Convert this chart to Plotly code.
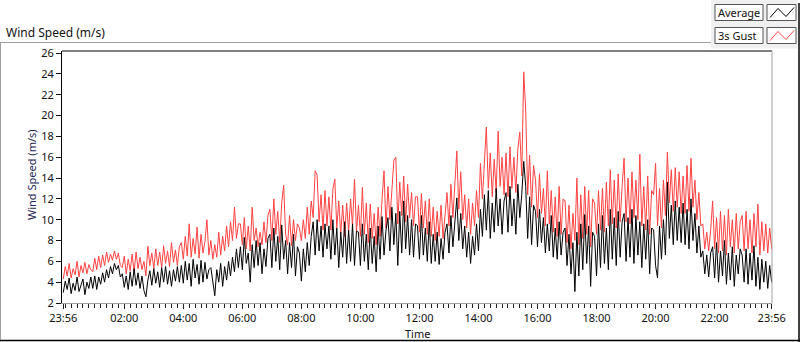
import plotly.graph_objects as go
import pandas as pd

# ---------------- data (4-minute samples) ----------------
start_time = "2015-06-01 23:56"
sample_minutes = 4

avg_speed = [
    3.0, 4.1, 3.3, 4.4, 2.9, 3.9, 3.2, 4.5, 3.1, 3.8, 4.3, 2.8, 4.0, 3.4, 4.5,
    3.4, 4.6, 3.3, 4.5, 3.8, 4.9, 4.0, 5.2, 4.4, 5.5, 4.8, 5.8, 5.2, 5.6, 4.5,
    4.8, 3.5, 4.6, 3.3, 5.0, 3.6, 5.3, 3.7, 4.9, 3.4, 4.6, 3.2, 2.6, 4.2, 5.1,
    3.7, 5.3, 3.9, 5.0, 3.5, 5.4, 4.0, 5.5, 3.8, 5.1, 3.6, 5.2, 4.1, 5.5, 4.0,
    5.6, 3.9, 6.0, 4.2, 5.8, 3.6, 6.2, 4.4, 5.7, 3.8, 6.1, 4.0, 5.9, 4.3, 5.2,
    5.4, 3.8, 2.7, 5.2, 4.0, 5.8, 3.6, 5.5, 4.2, 6.0, 4.6, 6.4, 5.0, 7.2, 5.4,
    7.4, 5.2, 8.3, 5.8, 6.8, 4.0, 7.6, 5.4, 8.0, 5.6, 7.8, 4.8, 7.2, 5.5, 8.2,
    8.6, 5.4, 9.2, 6.0, 8.4, 5.2, 9.5, 6.2, 8.0, 4.8, 7.8, 5.4, 8.6, 4.6, 7.4,
    6.8, 4.1, 7.2, 5.0, 7.8, 5.6, 8.4, 9.8, 6.6, 10.0, 7.0, 9.4, 6.4, 9.6, 7.2,
    9.4, 6.2, 10.0, 6.6, 9.2, 5.4, 8.8, 6.4, 9.8, 5.8, 9.0, 6.0, 9.6, 5.6, 8.9,
    8.8, 5.6, 9.6, 6.0, 8.6, 5.2, 9.2, 5.8, 8.4, 5.0, 9.4, 6.2, 10.3, 6.6, 9.0,
    10.2, 7.0, 11.2, 7.6, 10.6, 5.6, 10.8, 6.8, 11.8, 7.2, 10.4, 6.6, 10.0, 6.4, 9.6,
    9.4, 6.2, 10.4, 6.6, 9.2, 6.0, 9.8, 5.8, 8.6, 6.0, 8.8, 5.7, 8.2, 6.2, 8.8,
    9.6, 6.8, 10.4, 7.4, 10.0, 12.1, 8.0, 10.6, 7.2, 9.4, 6.4, 8.8, 5.8, 8.4, 6.6,
    9.6, 7.0, 11.0, 8.4, 12.4, 9.0, 12.8, 8.2, 11.6, 8.8, 13.0, 9.4, 12.0, 8.6, 11.8,
    12.6, 8.8, 13.2, 9.4, 12.0, 8.6, 13.4, 10.2, 12.4, 15.6, 13.2, 8.2, 12.2, 7.6, 11.4,
    10.8, 7.4, 11.0, 7.8, 10.2, 6.8, 9.6, 7.0, 10.4, 6.4, 9.2, 6.2, 9.8, 6.6, 8.8,
    9.2, 5.6, 8.6, 4.8, 7.8, 3.1, 8.8, 4.6, 9.6, 5.2, 10.5, 5.8, 9.4, 3.6, 8.8,
    8.4, 4.6, 9.6, 5.4, 10.4, 5.8, 9.2, 5.2, 11.0, 6.2, 10.2, 5.6, 10.8, 6.4, 9.8,
    10.6, 6.0, 10.2, 6.4, 11.0, 5.8, 10.4, 6.6, 9.8, 5.4, 9.6, 6.2, 10.0, 4.8, 9.2,
    9.0, 5.6, 4.4, 9.4, 6.2, 10.0, 6.6, 13.6, 8.2, 11.4, 7.6, 11.8, 8.0, 11.2, 7.8,
    11.6, 7.6, 11.0, 7.2, 12.0, 8.0, 10.6, 6.8, 9.4, 6.4, 7.0, 4.8, 6.6, 4.5, 6.8,
    7.4, 4.4, 7.8, 4.0, 7.0, 4.6, 8.0, 3.8, 6.8, 4.2, 7.4, 3.6, 6.6, 4.8, 7.2,
    6.6, 4.0, 7.2, 3.8, 6.8, 4.2, 7.5, 3.6, 6.4, 3.3, 6.2, 4.0, 6.0, 3.4, 5.6,
    4.0,
]

gust_speed = [
    4.3, 5.5, 4.6, 5.8, 4.4, 5.3, 4.7, 6.0, 4.5, 5.6, 4.9, 5.9, 4.8, 5.7, 5.2,
    5.0, 6.3, 5.2, 6.5, 5.4, 6.6, 5.6, 6.9, 5.9, 6.7, 6.1, 7.0, 6.2, 6.8, 5.6,
    5.4, 6.5, 4.8, 6.2, 5.1, 6.7, 5.0, 6.9, 5.3, 6.4, 5.2, 6.0, 4.6, 7.45, 5.6,
    6.8, 5.3, 7.2, 5.6, 6.9, 5.4, 7.5, 5.8, 7.0, 5.5, 7.8, 5.9, 7.1, 5.6, 7.4,
    7.8, 6.2, 8.4, 6.5, 9.6, 6.4, 8.2, 6.7, 9.3, 6.3, 8.6, 6.8, 7.9, 10.0, 6.6,
    8.0, 6.2, 7.6, 6.4, 8.8, 6.6, 8.4, 7.0, 9.4, 7.4, 9.8, 8.0, 11.2, 8.2, 9.6,
    9.6, 7.6, 10.2, 7.2, 9.4, 7.0, 11.2, 8.0, 9.2, 7.4, 8.8, 7.6, 9.8, 7.8, 10.4,
    11.0, 8.0, 12.0, 8.6, 10.8, 7.8, 11.6, 13.3, 8.6, 7.6, 10.4, 7.5, 10.0, 8.0, 9.6,
    9.2, 8.0, 10.0, 8.2, 11.2, 8.6, 11.8, 10.2, 14.7, 14.3, 9.8, 12.4, 9.0, 12.8, 9.4,
    12.2, 9.0, 12.9, 13.9, 9.2, 11.8, 8.6, 11.4, 8.4, 11.6, 8.8, 12.0, 9.4, 13.9, 8.8,
    11.4, 8.4, 13.1, 8.6, 11.6, 7.8, 11.5, 8.2, 10.6, 7.6, 11.2, 8.4, 12.0, 14.7, 9.2,
    13.2, 10.0, 12.8, 15.7, 16.0, 9.6, 13.6, 10.4, 14.2, 9.8, 13.4, 10.2, 12.6, 9.4, 12.2,
    12.2, 8.8, 12.5, 9.2, 11.8, 8.6, 12.0, 8.4, 11.2, 8.0, 10.8, 8.4, 11.4, 8.2, 10.6,
    12.6, 9.4, 13.4, 10.2, 14.0, 16.6, 11.0, 14.6, 10.0, 12.4, 9.2, 12.0, 8.6, 11.6, 9.4,
    12.8, 10.2, 15.4, 12.0, 16.2, 18.9, 13.0, 16.4, 12.2, 15.8, 12.6, 18.5, 13.2, 16.0, 12.4,
    16.4, 12.2, 17.0, 13.0, 16.0, 12.6, 16.8, 18.4, 14.2, 24.2, 20.5, 12.4, 16.2, 11.2, 15.2,
    13.8, 10.2, 14.4, 10.6, 13.0, 9.4, 14.7, 9.6, 12.8, 8.8, 12.2, 8.4, 13.2, 8.6, 12.0,
    11.8, 7.8, 11.4, 7.2, 10.6, 8.0, 14.0, 7.6, 12.4, 8.2, 13.2, 8.6, 12.8, 7.4, 12.0,
    11.6, 8.6, 12.8, 9.0, 13.0, 8.8, 13.6, 9.4, 14.8, 9.6, 13.8, 9.2, 14.4, 9.8, 13.2,
    15.9, 9.8, 14.0, 9.6, 14.6, 10.2, 13.8, 10.0, 16.3, 9.4, 13.2, 9.0, 14.2, 8.6, 12.8,
    12.4, 15.4, 9.4, 13.0, 9.2, 13.8, 10.4, 16.5, 11.6, 14.8, 10.8, 15.0, 11.2, 14.6, 10.6,
    14.2, 10.6, 15.2, 10.8, 15.9, 11.2, 13.8, 10.0, 12.6, 9.4, 9.6, 7.2, 8.8, 7.0, 9.0,
    11.8, 7.2, 10.2, 6.8, 10.8, 7.0, 10.4, 6.6, 11.0, 7.4, 10.0, 6.8, 10.6, 7.2, 9.8,
    10.4, 7.0, 10.8, 7.2, 10.0, 6.8, 10.6, 7.4, 11.5, 6.6, 9.8, 7.0, 9.6, 6.8, 9.2,
    7.2,
]

tick_times = [
    "2015-06-01 23:56", "2015-06-02 02:00", "2015-06-02 04:00", "2015-06-02 06:00",
    "2015-06-02 08:00", "2015-06-02 10:00", "2015-06-02 12:00", "2015-06-02 14:00",
    "2015-06-02 16:00", "2015-06-02 18:00", "2015-06-02 20:00", "2015-06-02 22:00",
    "2015-06-02 23:56",
]
tick_labels = ["23:56", "02:00", "04:00", "06:00", "08:00", "10:00", "12:00",
               "14:00", "16:00", "18:00", "20:00", "22:00", "23:56"]

y_ticks = [2, 4, 6, 8, 10, 12, 14, 16, 18, 20, 22, 24, 26]

series_names = ["Average", "3s Gust"]

# ---------------- figure ----------------
times = pd.date_range(start_time, periods=len(avg_speed), freq=f"{sample_minutes}min")

W, H = 800, 342
L, R, T, B = 62, 28, 51, 39
PW, PH = W - L - R, H - T - B


def px(x):
    return (x - L) / PW


def py(y):
    return (H - B - y) / PH


FONT = "Noto Sans"
TXT = "#111111"
RED = "#ff4242"

fig = go.Figure()
fig.add_trace(go.Scatter(x=times, y=gust_speed, mode="lines", name=series_names[1],
                         line=dict(color=RED, width=1)))
fig.add_trace(go.Scatter(x=times, y=avg_speed, mode="lines", name=series_names[0],
                         line=dict(color="#000000", width=1)))

fig.update_layout(
    width=W, height=H,
    margin=dict(l=L, r=R, t=T, b=B, pad=0, autoexpand=False),
    paper_bgcolor="white", plot_bgcolor="white",
    showlegend=False, hovermode=False,
    font=dict(family=FONT, size=11, color=TXT),
)

fig.update_xaxes(
    type="date", automargin=False,
    range=["2015-06-01 23:53:25", "2015-06-02 23:56:40"],
    tickmode="array", tickvals=tick_times, ticktext=tick_labels,
    ticks="outside", ticklen=5, tickcolor="#222222", tickwidth=1,
    minor=dict(ticks="outside", ticklen=4, tickcolor="#222222",
               dtick=12 * 60 * 1000, tick0="2015-06-02 00:00", showgrid=False),
    showgrid=False, zeroline=False,
    showline=True, linecolor="#a0a0a0", linewidth=1,
    tickfont=dict(family=FONT, size=11, color=TXT),
)
fig.update_yaxes(
    range=[2, 26.2], automargin=False,
    tickmode="array", tickvals=y_ticks,
    ticks="outside", ticklen=5, tickcolor="#111111", tickwidth=1,
    showgrid=False, zeroline=False,
    showline=True, linecolor="#000000", linewidth=1,
    tickfont=dict(family=FONT, size=11, color=TXT),
)

shapes = []
# outer panel frame
shapes.append(dict(type="line", xref="paper", yref="paper", x0=px(0), x1=px(711), y0=py(42.5), y1=py(42.5),
                   line=dict(color="#a0a0a0", width=1)))
shapes.append(dict(type="line", xref="paper", yref="paper", x0=px(0.5), x1=px(0.5), y0=py(42), y1=py(342),
                   line=dict(color="#a0a0a0", width=1)))
shapes.append(dict(type="line", xref="paper", yref="paper", x0=px(0), x1=px(800), y0=py(340.5), y1=py(340.5),
                   line=dict(color="#000000", width=1.5)))
shapes.append(dict(type="line", xref="paper", yref="paper", x0=px(799), x1=px(799), y0=py(3), y1=py(342),
                   line=dict(color="#000000", width=1.5)))
# legend panel
shapes.append(dict(type="rect", xref="paper", yref="paper", x0=px(711), x1=px(798), y0=py(0), y1=py(48.5),
                   fillcolor="#f0f0f0", line=dict(width=0), layer="below"))
# plot frame top (black) and right (gray)
shapes.append(dict(type="line", xref="paper", yref="paper", x0=px(62), x1=px(772), y0=py(51), y1=py(51),
                   line=dict(color="#000000", width=1)))
shapes.append(dict(type="line", xref="paper", yref="paper", x0=px(772), x1=px(772), y0=py(51), y1=py(303),
                   line=dict(color="#a0a0a0", width=1)))

# legend boxes
rows = [(4.5, 20.5, "#000000"), (27.5, 43.5, RED)]
annotations = []
for (y0, y1, col), name in zip(rows, series_names):
    shapes.append(dict(type="rect", xref="paper", yref="paper", x0=px(715), x1=px(763), y0=py(y0), y1=py(y1),
                       fillcolor="white", line=dict(color="#555555", width=1)))
    shapes.append(dict(type="rect", xref="paper", yref="paper", x0=px(767), x1=px(796), y0=py(y0), y1=py(y1),
                       fillcolor="white", line=dict(color="#555555", width=1)))
    zig = [(770, y1 - 3), (778, y0 + 4), (786, y1 - 4), (794, y0 + 3)]
    path = "M " + " L ".join(f"{px(a)},{py(b)}" for a, b in zig)
    shapes.append(dict(type="path", xref="paper", yref="paper", path=path,
                       line=dict(color=col, width=1)))
    annotations.append(dict(xref="paper", yref="paper", x=px(716), y=py((y0 + y1) / 2),
                            xanchor="left", yanchor="middle", text=name, showarrow=False,
                            font=dict(family=FONT, size=11, color=TXT)))

# chart caption and axis titles
annotations.append(dict(xref="paper", yref="paper", x=px(4), y=py(32), xanchor="left", yanchor="middle",
                        text="Wind Speed (m/s)", showarrow=False,
                        font=dict(family=FONT, size=12, color=TXT)))
annotations.append(dict(xref="paper", yref="paper", x=px(31), y=py(175), xanchor="center", yanchor="middle",
                        text="Wind Speed (m/s)", showarrow=False, textangle=-90,
                        font=dict(family=FONT, size=11, color="#1c2450")))
annotations.append(dict(xref="paper", yref="paper", x=px(417), y=py(333), xanchor="center", yanchor="middle",
                        text="Time", showarrow=False,
                        font=dict(family=FONT, size=11, color=TXT)))

fig.update_layout(shapes=shapes, annotations=annotations)

fig.write_html("out.html", post_script="document.body.style.margin='0px';",
               config={"displayModeBar": False})
